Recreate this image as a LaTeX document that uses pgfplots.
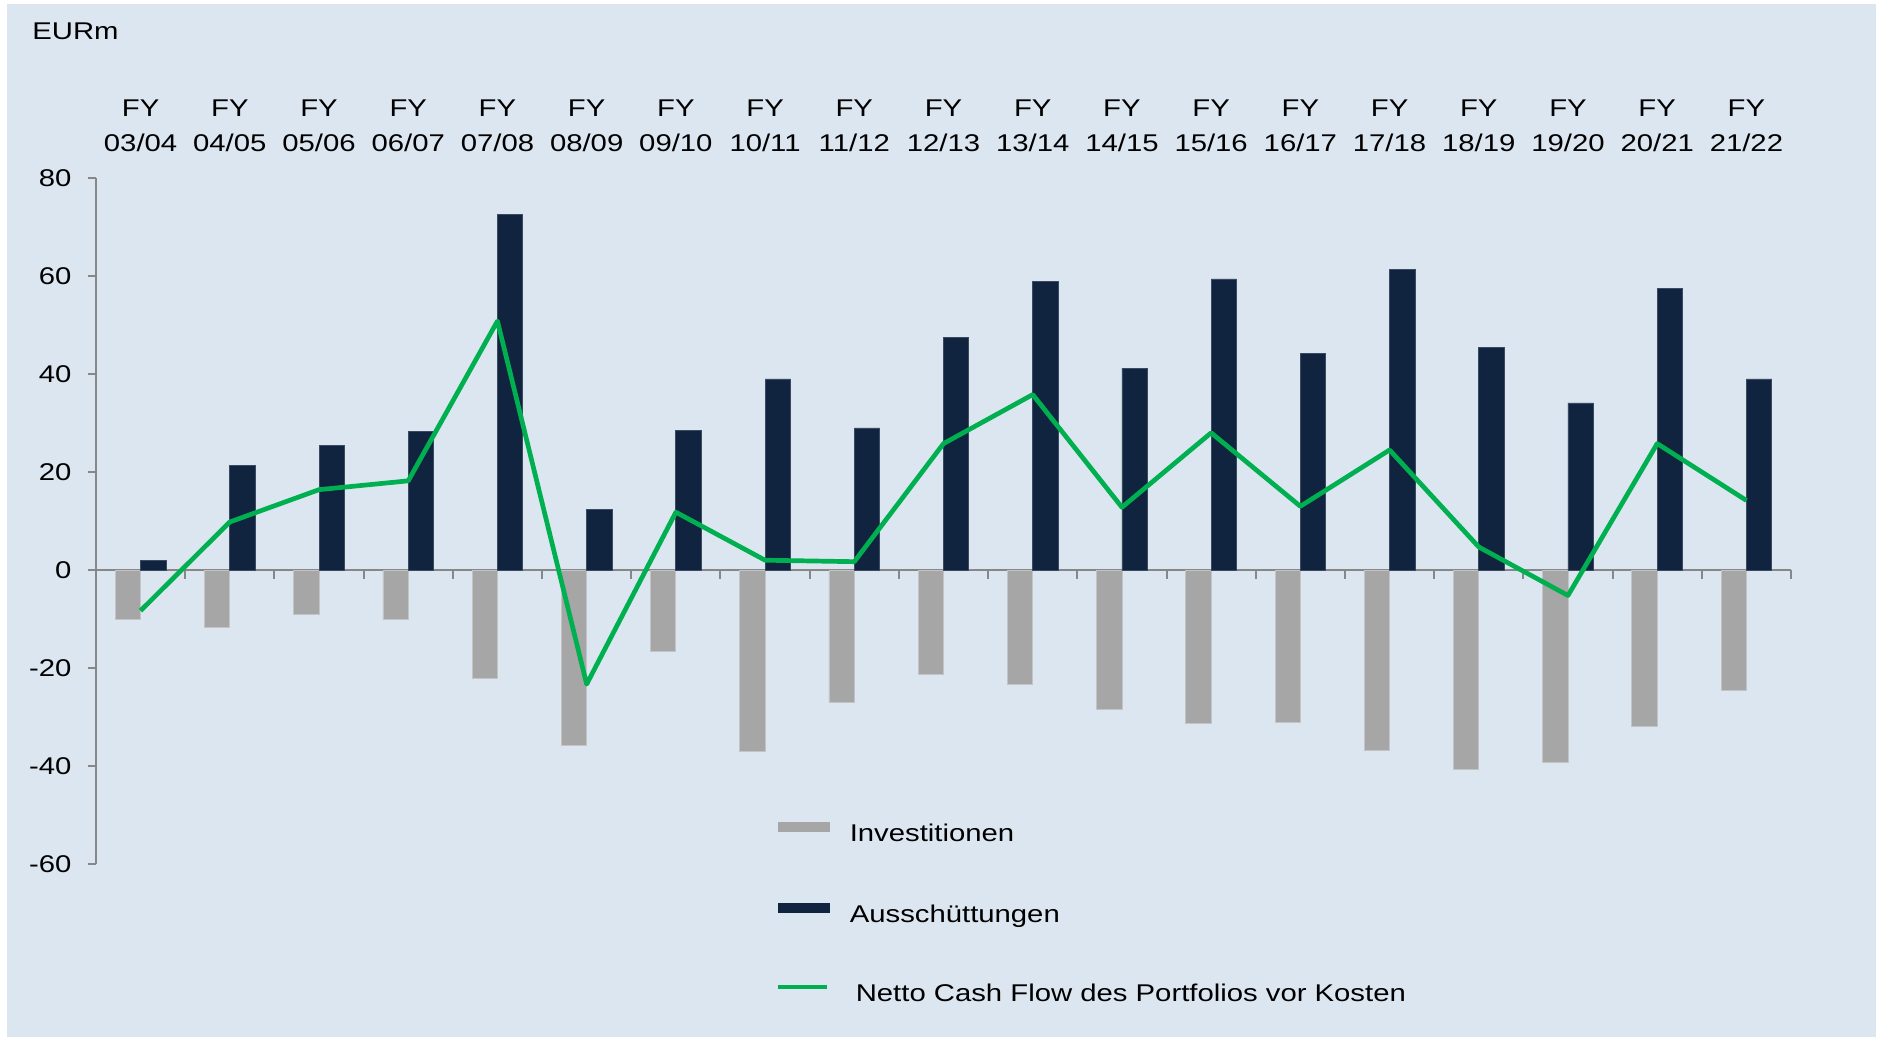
\documentclass[border=0pt]{standalone}
\usepackage{fontspec}
\setmainfont{Liberation Sans}[FakeStretch=1.21]
\usepackage{pgfplots}
\pgfplotsset{compat=1.18}
\definecolor{bgblue}{HTML}{DCE6F1}
\definecolor{navy}{HTML}{10243F}
\definecolor{navyedge}{HTML}{3A4A60}
\definecolor{investgray}{HTML}{A6A6A6}
\definecolor{grayedge}{HTML}{C4C4C4}
\definecolor{netgreen}{HTML}{00B050}
\definecolor{axisgray}{HTML}{878787}
\newcommand{\cf}{\fontsize{12.1}{17.5}\selectfont}
\begin{document}
\begin{tikzpicture}
\fill[white] (0,0) rectangle (941.5pt,-519pt);
\fill[bgblue] (3.5pt,-2pt) rectangle (938pt,-518.5pt);
\node[anchor=base west, inner sep=0pt, font=\cf] at (16pt,-19.6pt) {EURm};
\begin{axis}[
  at={(48pt,-432pt)}, anchor=south west,
  scale only axis, width=847.5pt, height=343pt,
  xmin=-0.5, xmax=18.5, ymin=-60, ymax=80,
  enlargelimits=false, clip=false,
  axis y line*=left, axis x line*=top,
  x axis line style={draw=none},
  y axis line style={draw=axisgray, line width=1pt},
  tick align=outside, major tick length=4pt,
  ytick={-60,-40,-20,0,20,40,60,80},
  yticklabels={-60,-40,-20,0,20,40,60,80},
  ytick style={draw=axisgray, line width=1pt},
  yticklabel style={font=\cf, text=black, inner sep=0pt, xshift=-8.1pt},
  xtick={0,...,18},
  xticklabels={{FY\\03/04},{FY\\04/05},{FY\\05/06},{FY\\06/07},{FY\\07/08},{FY\\08/09},{FY\\09/10},{FY\\10/11},{FY\\11/12},{FY\\12/13},{FY\\13/14},{FY\\14/15},{FY\\15/16},{FY\\16/17},{FY\\17/18},{FY\\18/19},{FY\\19/20},{FY\\20/21},{FY\\21/22}},
  xtick style={draw=none},
  xticklabel style={align=center, font=\cf, text=black, inner sep=0pt, yshift=9.1pt},
  bar width=0.284,
  legend cell align=left,
  legend style={draw=none, fill=none, at={(axis cs:7.118,-51.3)}, anchor=north west,
    inner sep=0pt, row sep=27.65pt, column sep=10pt,
    nodes={inner sep=0pt, text height=9pt, text depth=3pt, font=\cf, text=black}},
]
\draw[axisgray, line width=1pt] (axis cs:-0.5,0) -- (axis cs:18.5,0);
\pgfplotsinvokeforeach{-0.5,0.5,...,18.5}{\draw[axisgray, line width=1pt] (axis cs:#1,0) -- ++(0pt,-4.5pt);}
\addplot[ybar, bar shift=-0.142, fill=investgray, draw=grayedge, line width=0.4pt,
  legend image code/.code={\fill[investgray] (0pt,1.85pt) rectangle (25.5pt,6.55pt);}]
  coordinates {(0,-10.1) (1,-11.8) (2,-9.1) (3,-10.1) (4,-22.1) (5,-35.8) (6,-16.7) (7,-37.1) (8,-27.0) (9,-21.3) (10,-23.3) (11,-28.5) (12,-31.4) (13,-31.2) (14,-36.8) (15,-40.7) (16,-39.3) (17,-31.9) (18,-24.5)};
\addlegendentry{Investitionen}
\addplot[ybar, bar shift=0.142, fill=navy, draw=navyedge, line width=0.4pt,
  legend image code/.code={\fill[navy] (0pt,1.85pt) rectangle (25.5pt,6.55pt);}]
  coordinates {(0,2.0) (1,21.3) (2,25.5) (3,28.2) (4,72.6) (5,12.3) (6,28.5) (7,39.0) (8,29.0) (9,47.4) (10,58.9) (11,41.2) (12,59.4) (13,44.2) (14,61.3) (15,45.4) (16,34.1) (17,57.4) (18,39.0)};
\addlegendentry{Ausschüttungen}
\addplot[color=netgreen, line width=2.35pt, mark=none, line join=round, sharp plot,
  legend image code/.code={\draw[netgreen, line width=2.4pt] (0pt,4.2pt) -- (24.5pt,4.2pt);}]
  coordinates {(0,-8.3) (1,9.8) (2,16.4) (3,18.2) (4,50.8) (5,-23.3) (6,11.8) (7,2.0) (8,1.7) (9,25.8) (10,35.8) (11,12.8) (12,28.0) (13,13.0) (14,24.5) (15,4.7) (16,-5.2) (17,25.8) (18,14.2)};
\addlegendentry{\hspace{3pt}Netto Cash Flow des Portfolios vor Kosten}
\end{axis}
\end{tikzpicture}
\end{document}
